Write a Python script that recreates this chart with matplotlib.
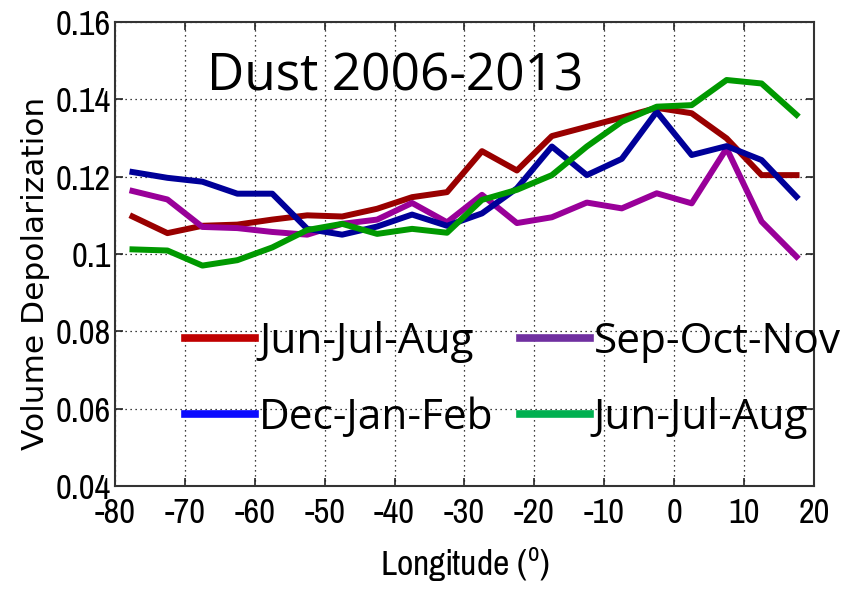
import matplotlib
matplotlib.use("Agg")
import matplotlib.pyplot as plt
from matplotlib.lines import Line2D

lon = [-77.5, -72.5, -67.5, -62.5, -57.5, -52.5, -47.5, -42.5, -37.5, -32.5,
       -27.5, -22.5, -17.5, -12.5, -7.5, -2.5, 2.5, 7.5, 12.5, 17.5]

jja = [0.1097, 0.1054, 0.1073, 0.1076, 0.1089, 0.1100, 0.1097, 0.1117, 0.1147, 0.1160,
       0.1266, 0.1216, 0.1305, 0.1329, 0.1353, 0.1378, 0.1364, 0.1299, 0.1204, 0.1204]
son = [0.1163, 0.1141, 0.1070, 0.1067, 0.1057, 0.1050, 0.1078, 0.1089, 0.1132, 0.1082,
       0.1153, 0.1080, 0.1095, 0.1133, 0.1118, 0.1157, 0.1131, 0.1273, 0.1084, 0.0993]
djf = [0.1212, 0.1197, 0.1187, 0.1156, 0.1156, 0.1065, 0.1050, 0.1071, 0.1102, 0.1073,
       0.1105, 0.1170, 0.1278, 0.1204, 0.1246, 0.1368, 0.1256, 0.1279, 0.1243, 0.1148]
mam = [0.1012, 0.1009, 0.0970, 0.0984, 0.1017, 0.1062, 0.1078, 0.1052, 0.1065, 0.1055,
       0.1140, 0.1166, 0.1204, 0.1278, 0.1342, 0.1381, 0.1385, 0.1450, 0.1441, 0.1360]

legend_labels = ["Jun-Jul-Aug", "Dec-Jan-Feb", "Sep-Oct-Nov", "Jun-Jul-Aug"]
line_colors = {"jja": "#990000", "son": "#990099", "djf": "#000099", "mam": "#009900"}
legend_colors = ["#c00000", "#0a0aff", "#7030a0", "#00b050"]

xticks = [-80, -70, -60, -50, -40, -30, -20, -10, 0, 10, 20]
yticks = [0.04, 0.06, 0.08, 0.1, 0.12, 0.14, 0.16]
yticklabels = ["0.04", "0.06", "0.08", "0.1", "0.12", "0.14", "0.16"]

narrow = ["Pragati Narrow", "DejaVu Sans"]
humanist = ["Open Sans", "DejaVu Sans"]

fig = plt.figure(figsize=(8.49, 5.89), dpi=100)
ax = fig.add_axes([115/849, 1-486/589, 699/849, 464/589])

lw = 4.3
ax.plot(lon, jja, color=line_colors["jja"], lw=lw)
ax.plot(lon, son, color=line_colors["son"], lw=lw)
ax.plot(lon, djf, color=line_colors["djf"], lw=lw)
ax.plot(lon, mam, color=line_colors["mam"], lw=lw)

ax.set_xlim(-80, 20)
ax.set_ylim(0.04, 0.16)
ax.set_xticks(xticks)
ax.set_xticklabels([str(t) for t in xticks], fontfamily=narrow, fontsize=27)
ax.set_yticks(yticks)
ax.set_yticklabels(yticklabels, fontfamily=narrow, fontsize=27)
ax.tick_params(direction="in", top=True, right=True, length=6, width=1.2,
               color="#222222")
ax.tick_params(axis="x", pad=8)
ax.tick_params(axis="y", pad=3)
ax.grid(True, linestyle=(0, (1, 3)), color="black", linewidth=0.9)
for s in ax.spines.values():
    s.set_linewidth(1.5)
    s.set_color("#333333")

ax.set_xlabel("Longitude ($^\\mathregular{o}$)", fontfamily=narrow, fontsize=28,
              labelpad=12)
ax.set_ylabel("Volume Depolarization", fontfamily="DejaVu Sans", fontsize=22.5)
ax.yaxis.set_label_coords(-0.093, 0.459)

ax.text(0.1316, 0.853, "Dust 2006-2013", transform=ax.transAxes,
        fontfamily=humanist, fontsize=37, va="baseline", ha="left")

handles = [Line2D([], [], color=c, lw=5.5) for c in legend_colors]
leg = ax.legend(handles, legend_labels, ncol=2, frameon=False,
                loc="upper left", bbox_to_anchor=(0.10, 0.356),
                prop={"family": humanist, "size": 30.5},
                handlelength=1.65, handletextpad=0.1, columnspacing=0.62,
                labelspacing=0.8, borderpad=0, borderaxespad=0)

fig.savefig("out.png", dpi=100)
